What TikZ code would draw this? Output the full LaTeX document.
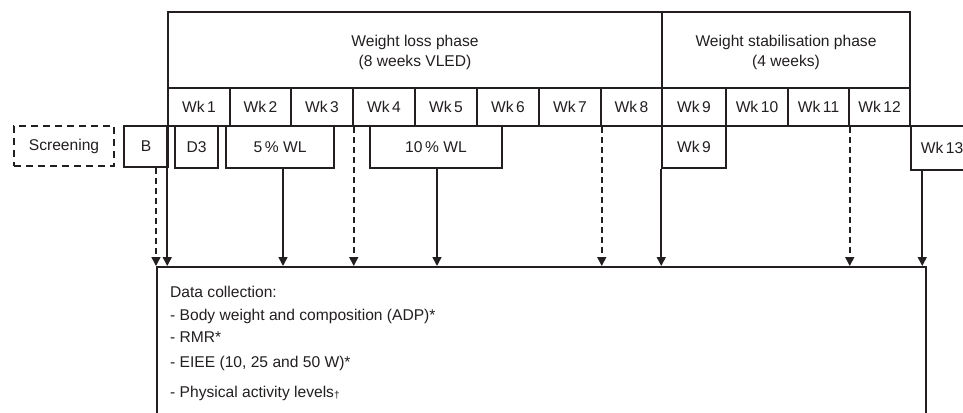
\documentclass[tikz,border=0pt]{standalone}
\usepackage{fontspec}
\setmainfont{Liberation Sans}
\usetikzlibrary{arrows.meta}
\definecolor{ink}{HTML}{231F20}
\begin{document}
\begin{tikzpicture}[x=1pt,y=-1pt,
  every node/.style={font=\fontsize{15.6}{20}\selectfont, text=ink},
  cell/.style={draw=ink, line width=1.5pt, inner sep=0pt, minimum width=#1},
  phase/.style={cell=#1, minimum height=76pt, align=center},
  week/.style={cell=#1, minimum height=38pt},
  tag/.style={cell=#1, minimum height=42pt},
  solidarrow/.style={draw=ink, line width=1.6pt, -{Triangle[length=9pt,width=9pt]}},
  dasharrow/.style={solidarrow, dash pattern=on 6pt off 4pt},
  item/.style={anchor=base west, inner sep=0pt}
]
\clip (0,0) rectangle (963,412);
\fill[white] (0,0) rectangle (963,412);

% phases
\node[phase=494pt] (loss) at (415,50) {};
\node at (415,52) [align=center] {Weight loss phase\\(8 weeks VLED)};
\node[phase=248pt] (stab) at (786,50) {};
\node at (786,52) [align=center] {Weight stabilisation phase\\(4 weeks)};

% weeks
\node[week=62pt] (w1) at (199,107) {Wk\,1};
\node[week=61pt] (w2) at (260.5,107) {Wk\,2};
\node[week=62pt] (w3) at (322,107) {Wk\,3};
\node[week=62pt] (w4) at (384,107) {Wk\,4};
\node[week=62pt] (w5) at (446,107) {Wk\,5};
\node[week=62pt] (w6) at (508,107) {Wk\,6};
\node[week=62pt] (w7) at (570,107) {Wk\,7};
\node[week=61pt] (w8) at (631.5,107) {Wk\,8};
\node[week=64pt] (w9) at (694,107) {Wk\,9};
\node[week=62pt] (w10) at (757,107) {Wk\,10};
\node[week=61pt] (w11) at (818.5,107) {Wk\,11};
\node[week=61pt] (w12) at (879.5,107) {Wk\,12};

% time-point tags
\node[tag=100pt, minimum height=40pt, dash pattern=on 7pt off 5pt] (scr) at (64,146) {Screening};
\node[tag=44pt, minimum height=41pt] (B) at (146,146.5) {B};
\node[tag=43pt] (D3) at (196.5,147) {D3};
\node[tag=108pt] (wl5) at (280,147) {5\,\% WL};
\node[tag=132pt] (wl10) at (436,147) {10\,\% WL};
\node[tag=64pt] (wk9b) at (694,147) {Wk\,9};
\node[tag=62pt, minimum height=44pt] (wk13) at (942,148) {Wk\,13};

% data collection box
\node[cell=769pt, minimum height=170pt, anchor=north west] (data) at (156,266) {};
\node[item] at (170,297) {Data collection:};
\node[item] at (170,320) {- Body weight and composition (ADP)*};
\node[item] at (170,342) {- RMR*};
\node[item] at (170,367) {- EIEE (10, 25 and 50 W)*};
\node[item] at (170,397) {- Physical activity levels\raisebox{-1.5pt}{\fontsize{10}{10}\selectfont †}};

% connectors
\draw[dasharrow] (B.south -| data.north west) -- (data.north west);
\draw[solidarrow] (w1.south west) -- (w1.south west |- data.north);
\draw[solidarrow] ([xshift=3pt]wl5.south) -- ([xshift=3pt]wl5.south |- data.north);
\draw[dasharrow] (w3.south east) -- (w3.south east |- data.north);
\draw[solidarrow] ([xshift=1pt]wl10.south) -- ([xshift=1pt]wl10.south |- data.north);
\draw[dasharrow] (w7.south east) -- (w7.south east |- data.north);
\draw[solidarrow] (wk9b.south west) -- (wk9b.south west |- data.north);
\draw[dasharrow] (w11.south east) -- (w11.south east |- data.north);
\draw[solidarrow] ([xshift=12pt]wk13.south west) -- ([xshift=12pt]wk13.south west |- data.north);
\end{tikzpicture}
\end{document}
